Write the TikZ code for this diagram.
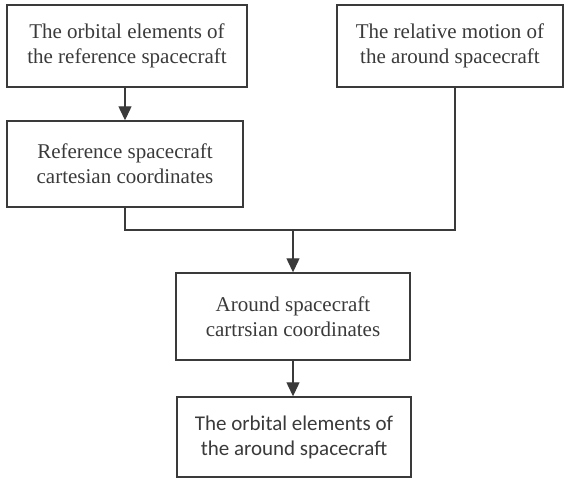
\documentclass[tikz,border=0pt]{standalone}
\usepackage{fontspec}
\setmainfont{Liberation Serif}
\newfontfamily\boxsans{Carlito}
\usetikzlibrary{arrows.meta}
\definecolor{ink}{HTML}{3A3A3A}
\begin{document}
\begin{tikzpicture}[x=1pt,y=-1pt,
  flowbox/.style={draw=ink,line width=1.4pt,align=center,inner sep=0pt,text=ink,
    font=\fontsize{21}{25}\selectfont},
  conn/.style={draw=ink,line width=1.2pt},
  arr/.style={conn,-{Triangle[width=13pt,length=14pt]}}]
\useasboundingbox (0,0) rectangle (568,479);
\node[flowbox,minimum width=240pt,minimum height=82pt] (b1) at (127,46)
  {The orbital elements of\\the reference spacecraft};
\node[flowbox,minimum width=226pt,minimum height=82pt] (b2) at (450,46)
  {The relative motion of\\the around spacecraft};
\node[flowbox,minimum width=236pt,minimum height=86pt] (b3) at (125,164)
  {Reference spacecraft\\cartesian coordinates};
\node[flowbox,minimum width=234pt,minimum height=87pt] (b4) at (293,316.5)
  {Around spacecraft\\cartrsian coordinates};
\node[flowbox,minimum width=234pt,minimum height=80pt,font=\boxsans\fontsize{21}{25}\selectfont] (b5) at (294,437)
  {The orbital elements of\\the around spacecraft};
\coordinate (j) at (293,230);
\coordinate (b2out) at ([xshift=5pt]b2.south);
\draw[arr] (b1.south -| b3.north) -- (b3.north);
\draw[conn] (b3.south) |- (j);
\draw[conn] (b2out) |- (j);
\draw[arr] (j) -- (j |- b4.north);
\draw[arr] (b4.south -| j) -- (j |- b5.north);
\end{tikzpicture}
\end{document}
